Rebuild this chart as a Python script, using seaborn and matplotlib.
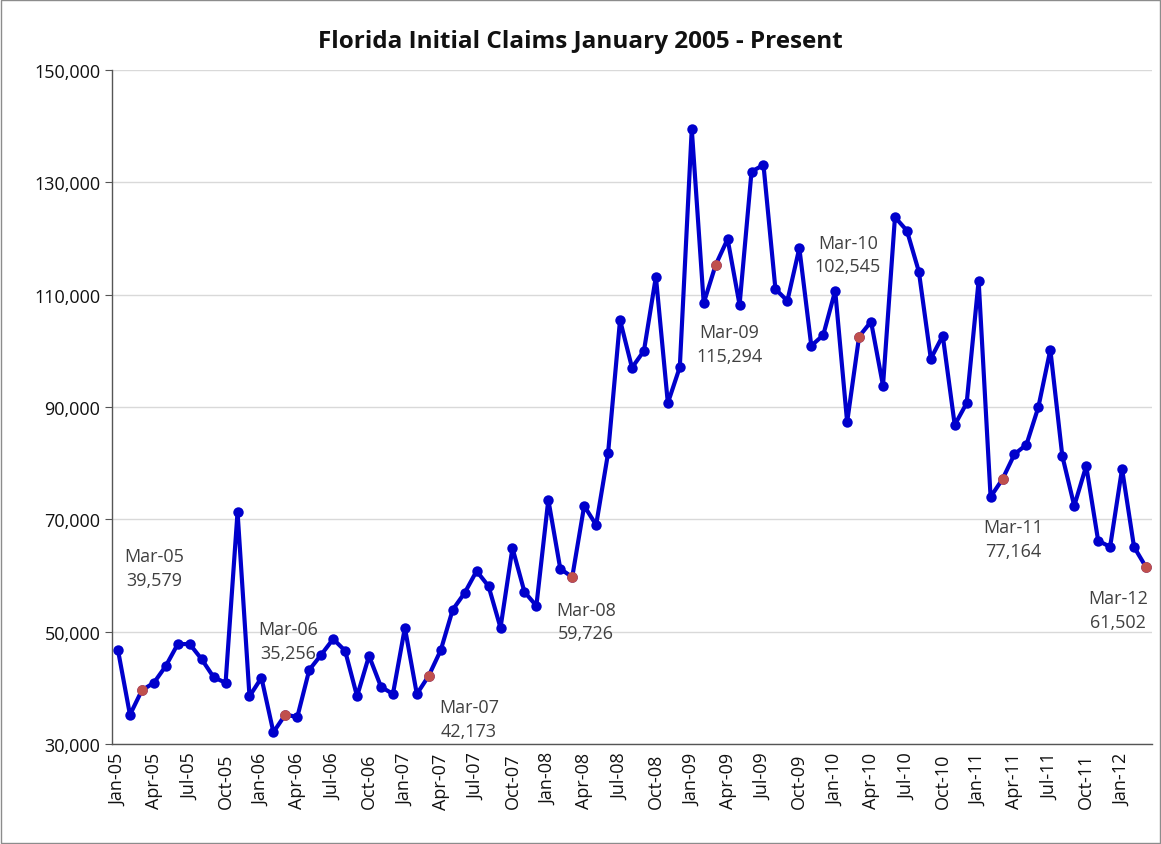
import pandas as pd
import matplotlib.pyplot as plt
import seaborn as sns

# monthly initial claims, Jan-05 .. Mar-12
claims = [
    46700, 35200, 39579, 40900, 43900, 47800, 47800, 45100, 41900, 40900, 71300, 38500,
    41800, 32100, 35256, 34800, 43200, 45900, 48700, 46600, 38500, 45700, 40200, 38900,
    50700, 38900, 42173, 46700, 53900, 56900, 60800, 58100, 50700, 64900, 57100, 54600,
    73500, 61200, 59726, 72400, 69000, 81800, 105500, 97000, 100000, 113200, 90700, 97100,
    139500, 108500, 115294, 119900, 108200, 131900, 133100, 111000, 108900, 118300, 100900, 102800,
    110700, 87300, 102545, 105200, 93800, 123800, 121400, 114100, 98600, 102700, 86800, 90700,
    112500, 74000, 77164, 81600, 83300, 90000, 100200, 81300, 72400, 79500, 66200, 65100,
    79000, 65100, 61502,
]
tick_labels = [
    "Jan-05", "Apr-05", "Jul-05", "Oct-05", "Jan-06", "Apr-06", "Jul-06", "Oct-06",
    "Jan-07", "Apr-07", "Jul-07", "Oct-07", "Jan-08", "Apr-08", "Jul-08", "Oct-08",
    "Jan-09", "Apr-09", "Jul-09", "Oct-09", "Jan-10", "Apr-10", "Jul-10", "Oct-10",
    "Jan-11", "Apr-11", "Jul-11", "Oct-11", "Jan-12",
]
march_labels = ["Mar-05", "Mar-06", "Mar-07", "Mar-08", "Mar-09", "Mar-10", "Mar-11", "Mar-12"]
march_idx = [2, 14, 26, 38, 50, 62, 74, 86]
# label offsets in points (dx, dy) relative to the red point
march_offsets = [(9, 88), (2, 53), (29, -31), (10, -32), (10, -57), (-8, 59), (8, -43), (-20, -31)]

df = pd.DataFrame({"idx": range(len(claims)), "claims": claims})
mar_df = df.iloc[march_idx]

sns.set_style("white")
plt.rcParams["font.family"] = ["Open Sans", "DejaVu Sans"]

fig = plt.figure(figsize=(11.61, 8.45), dpi=100)
ax = fig.add_axes([0.0965, 0.1183, 0.8957, 0.7977])

sns.lineplot(data=df, x="idx", y="claims", color="#0000CC", linewidth=3,
             marker="o", markersize=7.5, markeredgewidth=0, ax=ax)
sns.scatterplot(data=mar_df, x="idx", y="claims", color="#C0504D", s=60,
                linewidth=0, zorder=5, ax=ax)

for lab, i, (dx, dy) in zip(march_labels, march_idx, march_offsets):
    ax.annotate(f"{lab}\n{claims[i]:,}", (i, claims[i]), xytext=(dx, dy),
                textcoords="offset points", ha="center", va="center",
                fontsize=13, color="#404040", linespacing=1.4)

ax.set_xlim(-0.5, len(claims) - 0.5)
ax.set_ylim(30000, 150000)
ax.set_yticks(range(30000, 150001, 20000))
ax.yaxis.set_major_formatter(plt.FuncFormatter(lambda v, p: f"{int(v):,}"))
ax.set_xticks(range(0, len(claims), 3))
ax.set_xticklabels(tick_labels, rotation=90)
ax.set_xticks([i - 0.5 for i in range(0, len(claims), 3)], minor=True)
ax.tick_params(axis="x", which="major", length=0, labelsize=13, pad=6, colors="#111111")
ax.tick_params(axis="x", which="minor", length=6, direction="out", color="#555555")
ax.tick_params(axis="y", length=5, direction="out", labelsize=13, colors="#111111",
               left=True, color="#555555")
ax.grid(axis="y", color="#D9D9D9", linewidth=1)
ax.set_axisbelow(True)
ax.set_xlabel("")
ax.set_ylabel("")
for side in ["top", "right"]:
    ax.spines[side].set_visible(False)
for side in ["left", "bottom"]:
    ax.spines[side].set_color("#555555")
    ax.spines[side].set_linewidth(1)

fig.text(0.5, 0.95, "Florida Initial Claims January 2005 - Present", ha="center",
         va="center", fontsize=17.5, fontweight="bold", color="#111111")
fig.patches.append(plt.Rectangle((0.001, 0.001), 0.998, 0.998, transform=fig.transFigure,
                                 fill=False, edgecolor="#8C8C8C", linewidth=1))

plt.savefig("out.png", dpi=100)
